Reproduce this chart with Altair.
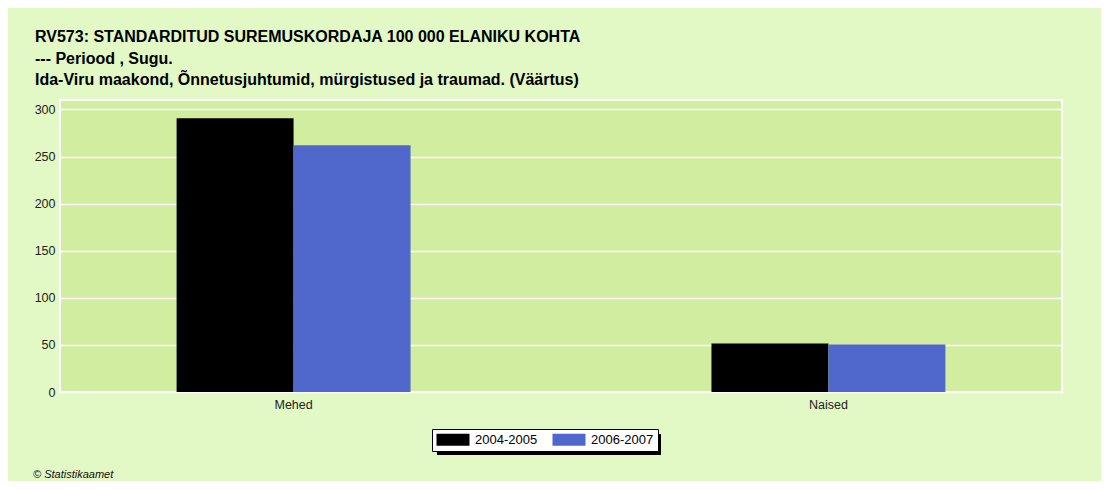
import altair as alt
import pandas as pd

categories = ["Mehed", "Naised"]
periods = ["2004-2005", "2006-2007"]
values_2004 = [290.5, 51.5]
values_2006 = [262, 50.5]

rows = []
for i, c in enumerate(categories):
    rows.append({"Sugu": c, "Periood": periods[0], "Väärtus": values_2004[i]})
    rows.append({"Sugu": c, "Periood": periods[1], "Väärtus": values_2006[i]})
df = pd.DataFrame(rows)

OUTER = "#E2F8C5"
INNER = "#D1EDA0"
FONT = "Liberation Sans"

bars = alt.Chart(df).mark_bar(stroke=None).encode(
    x=alt.X("Sugu:N", sort=categories, title=None,
            scale=alt.Scale(paddingInner=0.5626, paddingOuter=0.218),
            axis=alt.Axis(labelAngle=0, ticks=False, domain=False, labelPadding=6,
                          labelFontSize=12.5, labelColor="#222222", labelFont=FONT)),
    xOffset=alt.XOffset("Periood:N", sort=periods, scale=alt.Scale(paddingInner=0, paddingOuter=0)),
    y=alt.Y("Väärtus:Q", title=None,
            scale=alt.Scale(domain=[0, 310], nice=False),
            axis=alt.Axis(values=[0, 50, 100, 150, 200, 250, 300], ticks=False, domain=False,
                          labelPadding=5, labelFontSize=12.5, labelColor="#222222",
                          labelFont=FONT, gridColor="white", gridWidth=1.5,
                          gridOpacity=1)),
    color=alt.Color("Periood:N", sort=periods,
                    scale=alt.Scale(domain=periods, range=["#000000", "#5068CB"]),
                    legend=alt.Legend(title=None, orient="none", legendX=372, legendY=329,
                                      direction="horizontal", fillColor="white",
                                      strokeColor="black", padding=4,
                                      symbolType="M-1,-1H4.5V1H-1Z", symbolSize=144,
                                      symbolStrokeWidth=0, symbolOpacity=1,
                                      labelFontSize=13, labelFont=FONT,
                                      labelColor="black", labelOffset=26, columnPadding=14)),
)

shadow = alt.Chart(pd.DataFrame({"a": [0]})).mark_rect(color="black").encode(
    x=alt.value(377), x2=alt.value(601), y=alt.value(334), y2=alt.value(355)
)

footer = alt.Chart(pd.DataFrame({"t": ["© Statistikaamet"]})).mark_text(
    align="left", baseline="middle", fontStyle="italic", fontSize=11,
    font=FONT, color="#111111"
).encode(x=alt.value(-27), y=alt.value(375), text="t:N")

chart = alt.layer(shadow, bars, footer).properties(
    width=1002, height=292,
    background=OUTER,
    padding={"left": 52, "top": 92, "right": 39, "bottom": 89},
    autosize=alt.AutoSizeParams(type="none"),
    title=alt.Title(
        ["RV573: STANDARDITUD SUREMUSKORDAJA 100 000 ELANIKU KOHTA",
         "--- Periood , Sugu.",
         "Ida-Viru maakond, Õnnetusjuhtumid, mürgistused ja traumad. (Väärtus)"],
        anchor="start", frame="group", dx=-25, offset=12, fontSize=16,
        font=FONT, fontWeight="bold", color="black", lineHeight=21.5,
    ),
).configure_view(fill=INNER, stroke="white", strokeWidth=2)

chart.save("out.html", embed_options={"renderer": "svg", "actions": False})
